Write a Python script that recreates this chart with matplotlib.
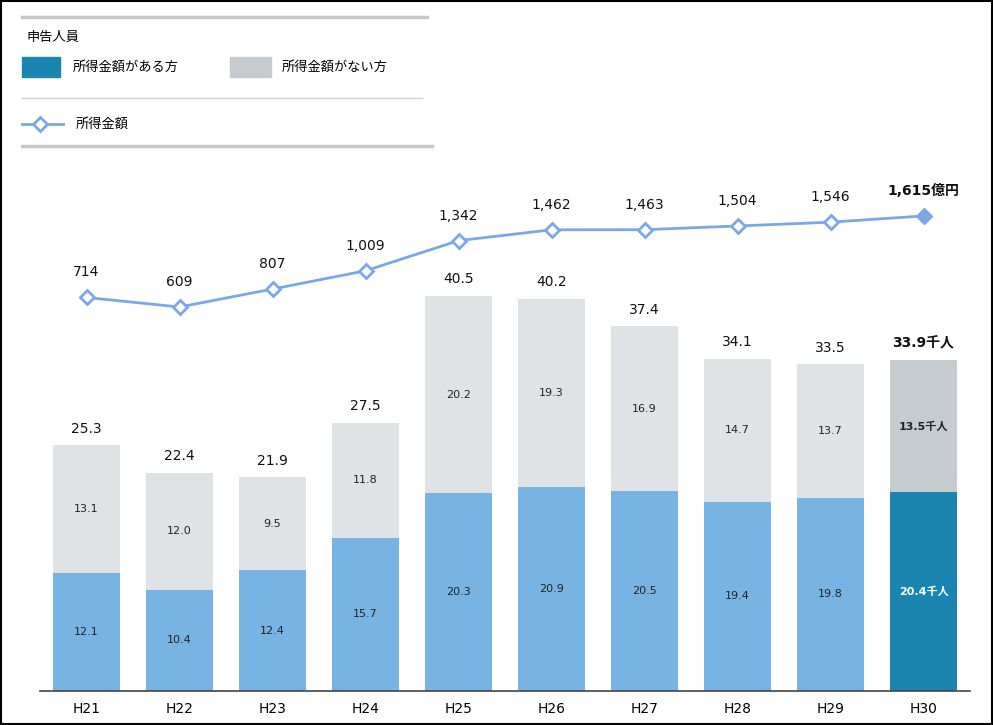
import matplotlib
matplotlib.use("Agg")
from matplotlib import pyplot as plt
from matplotlib.patches import Rectangle
from matplotlib.lines import Line2D

plt.rcParams['font.family'] = ['DejaVu Sans', 'Noto Sans CJK JP']

years = ["H21", "H22", "H23", "H24", "H25", "H26", "H27", "H28", "H29", "H30"]
with_income = [12.1, 10.4, 12.4, 15.7, 20.3, 20.9, 20.5, 19.4, 19.8, 20.4]
without_income = [13.1, 12.0, 9.5, 11.8, 20.2, 19.3, 16.9, 14.7, 13.7, 13.5]
totals = [25.3, 22.4, 21.9, 27.5, 40.5, 40.2, 37.4, 34.1, 33.5, 33.9]
amounts = [714, 609, 807, 1009, 1342, 1462, 1463, 1504, 1546, 1615]

blue = "#78b4e3"
gray = "#dfe3e6"
blue_last = "#1a85b0"
gray_last = "#c5cbcf"
line_color = "#7ba7e8"

W, H = 993, 725
fig = plt.figure(figsize=(W / 100, H / 100), dpi=100)

ax = fig.add_axes([40 / W, (H - 691) / H, 930 / W, 541 / H])
x = list(range(len(years)))
n = len(years)
c_with = [blue] * (n - 1) + [blue_last]
c_without = [gray] * (n - 1) + [gray_last]
ax.bar(x, with_income, width=0.71, color=c_with, zorder=2)
ax.bar(x, without_income, width=0.71, bottom=with_income, color=c_without, zorder=2)
ax.set_xlim(-0.5, 9.5)
ax.set_ylim(0, 541 / 9.75)

for i in x:
    last = i == n - 1
    w = "bold" if last else "normal"
    suf = "千人" if last else ""
    ax.text(i, with_income[i] / 2, f"{with_income[i]:.1f}{suf}", ha="center", va="center",
            fontsize=8, fontweight=w, color="white" if last else "#222222", zorder=3)
    ax.text(i, with_income[i] + without_income[i] / 2, f"{without_income[i]:.1f}{suf}",
            ha="center", va="center", fontsize=8, fontweight=w, color="#222222", zorder=3)
    ax.text(i, with_income[i] + without_income[i] + 1.0, f"{totals[i]:.1f}{suf}",
            ha="center", va="bottom", fontsize=10, fontweight=w, color="#111111", zorder=3)

for s in ["top", "right", "left"]:
    ax.spines[s].set_visible(False)
ax.spines["bottom"].set_color("#444444")
ax.spines["bottom"].set_linewidth(1.2)
ax.set_yticks([])
ax.set_xticks(x)
ax.set_xticklabels(years, fontsize=10)
ax.tick_params(axis="x", length=0, pad=8)

# line on secondary axis
ax2 = ax.twinx()
b = 0.0905
a = 362.1
ax2.set_ylim((a - 691) / b, (a - 150) / b)
ax2.axis("off")
ax2.plot(x, amounts, color=line_color, lw=2, zorder=4)
ax2.plot(x[:-1], amounts[:-1], ls="none", marker="D", ms=7, mfc="white",
         mec=line_color, mew=2, zorder=5)
ax2.plot(x[-1:], amounts[-1:], ls="none", marker="D", ms=8, mfc=line_color,
         mec=line_color, zorder=5)
for i in x:
    last = i == n - 1
    lab = f"{amounts[i]:,}" + ("億円" if last else "")
    ax2.text(i, amounts[i] + 200, lab, ha="center", va="bottom", fontsize=10,
             fontweight="bold" if last else "normal", color="#111111")

# legend drawn in pixel coordinates
def fx(px):
    return px / W


def fy(py):
    return 1 - py / H


fig.add_artist(Line2D([fx(22), fx(427)], [fy(17), fy(17)], color="#c8c8c8", lw=2.5))
fig.add_artist(Line2D([fx(22), fx(422)], [fy(98), fy(98)], color="#d0d0d0", lw=1))
fig.add_artist(Line2D([fx(22), fx(432)], [fy(146), fy(146)], color="#c8c8c8", lw=2.5))
fig.text(fx(27), fy(37), "申告人員", fontsize=9.5, va="center", ha="left")
fig.add_artist(Rectangle((fx(22), fy(77)), fx(38), 20 / H, color=blue_last))
fig.text(fx(73), fy(67), "所得金額がある方", fontsize=9.5, va="center", ha="left")
fig.add_artist(Rectangle((fx(230), fy(77)), fx(41), 20 / H, color=gray_last))
fig.text(fx(282), fy(67), "所得金額がない方", fontsize=9.5, va="center", ha="left")
fig.add_artist(Line2D([fx(22), fx(63)], [fy(124), fy(124)], color=line_color, lw=2))
fig.add_artist(Line2D([fx(40)], [fy(124)], ls="none", marker="D", ms=7, mfc="white",
                      mec=line_color, mew=2))
fig.text(fx(76), fy(124), "所得金額", fontsize=9.5, va="center", ha="left")

# outer frame
fig.add_artist(Rectangle((0.001, 0.0015), 0.998, 0.997, fill=False, ec="black", lw=1.5))

fig.savefig("out.png", dpi=100)
